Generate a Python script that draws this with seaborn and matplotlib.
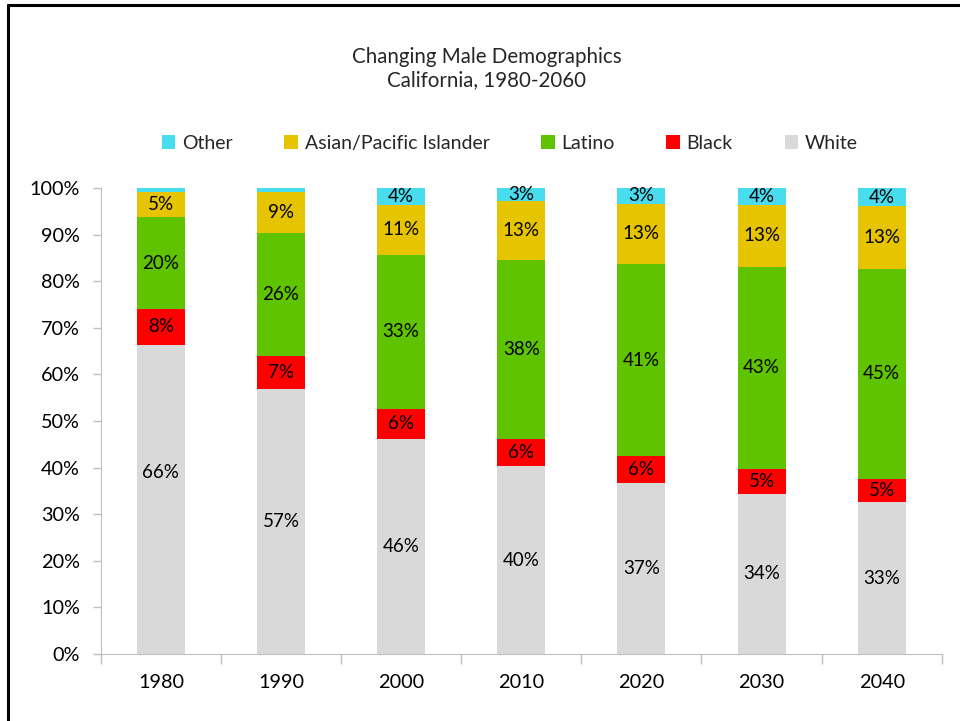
import numpy as np
import pandas as pd
import matplotlib
matplotlib.use("Agg")
import matplotlib.pyplot as plt
from matplotlib.patches import Patch
from matplotlib.lines import Line2D
import seaborn as sns

years = ["1980", "1990", "2000", "2010", "2020", "2030", "2040"]
white = [66.4, 56.9, 46.2, 40.3, 36.7, 34.4, 32.6]
black = [7.6, 7.0, 6.4, 5.9, 5.7, 5.3, 5.0]
latino = [19.8, 26.4, 33.1, 38.4, 41.3, 43.4, 45.1]
asian = [5.3, 8.8, 10.7, 12.7, 13.0, 13.3, 13.4]
other = [0.9, 0.9, 3.6, 2.7, 3.3, 3.6, 3.9]

groups = ["White", "Black", "Latino", "Asian/Pacific Islander", "Other"]
colors = {"White": "#D9D9D9", "Black": "#FF0000", "Latino": "#5FC300",
          "Asian/Pacific Islander": "#E6C500", "Other": "#47DCEE"}

df = pd.DataFrame({"Year": years, "White": white, "Black": black, "Latino": latino,
                   "Asian/Pacific Islander": asian, "Other": other})
cum = df[groups].cumsum(axis=1)

sns.set_style("white")
plt.rcParams["font.family"] = ["Lato", "DejaVu Sans"]

fig = plt.figure(figsize=(9.6, 7.21), dpi=100)
ax = fig.add_axes([0.105, 0.093, 0.876, 0.646])

# stack by drawing the cumulative totals from the top down
for g in reversed(groups):
    sns.barplot(x=df["Year"], y=cum[g], color=colors[g], width=0.4,
                saturation=1, ax=ax, edgecolor="none", linewidth=0)

# data labels in the middle of each segment (1980 white label sits a bit higher)
nudge = {("White", 0): 5.8}
for g in groups:
    mids = cum[g] - df[g] / 2
    for i, (v, m) in enumerate(zip(df[g], mids)):
        if v < 2:
            continue
        ax.text(i, m + nudge.get((g, i), 0), f"{v:.0f}%", ha="center", va="center",
                fontsize=13.5, color="black")

ax.set_ylim(0, 100)
ax.set_xlim(-0.5, len(years) - 0.5)
ax.set_yticks(np.arange(0, 101, 10))
ax.set_yticklabels([f"{t}%" for t in range(0, 101, 10)])
ax.set_xlabel("")
ax.set_ylabel("")
ax.tick_params(axis="both", labelsize=14.3, colors="#BFBFBF", labelcolor="black")
ax.tick_params(axis="y", left=True, length=6, width=1, pad=9)
ax.tick_params(axis="x", bottom=False, pad=11)
# x ticks between categories
ax.set_xticks(np.arange(-0.5, len(years), 1), minor=True)
ax.tick_params(axis="x", which="minor", bottom=True, length=7, width=1, color="#BFBFBF")
sns.despine(ax=ax, top=True, right=True)
ax.spines["left"].set_color("#BFBFBF")
ax.spines["bottom"].set_color("#BFBFBF")

fig.text(0.507, 0.905, "Changing Male Demographics\nCalifornia, 1980-2060", ha="center",
         va="center", fontsize=14.8, linespacing=1.15)

handles = [Patch(facecolor=colors[g], edgecolor="none") for g in reversed(groups)]
fig.legend(handles, list(reversed(groups)), loc="center", bbox_to_anchor=(0.531, 0.801),
           ncol=5, frameon=False, fontsize=14, handlelength=0.7, handleheight=0.7,
           handletextpad=0.35, columnspacing=2.65)

# frame line on the left and top of the figure
fig.add_artist(Line2D([0.008, 0.008], [0, 0.993], color="black", lw=2.2))
fig.add_artist(Line2D([0.008, 1.0], [0.993, 0.993], color="black", lw=2.2))

fig.savefig("out.png", dpi=100)
